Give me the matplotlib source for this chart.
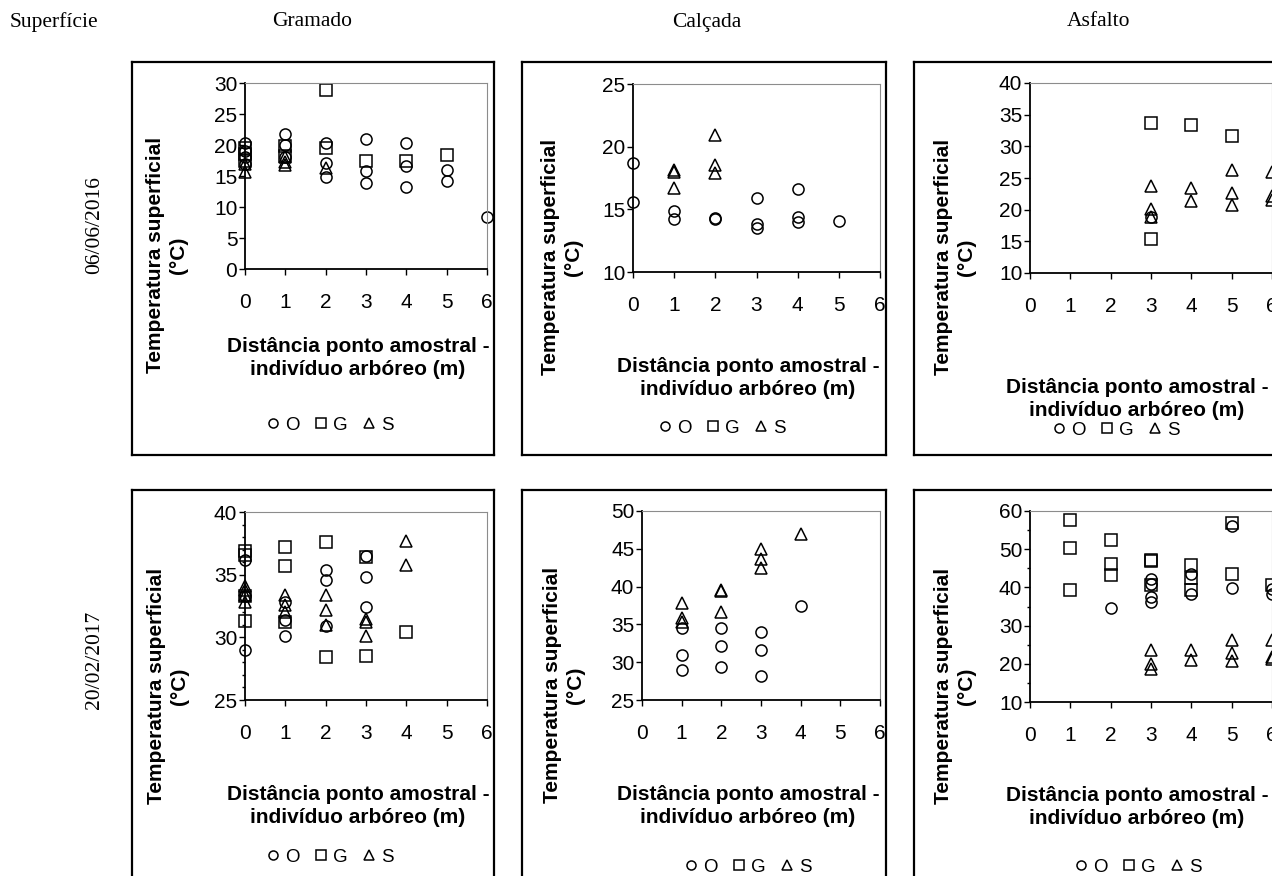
import matplotlib
matplotlib.use('Agg')
import matplotlib.pyplot as plt
from matplotlib.lines import Line2D
from matplotlib.ticker import MultipleLocator

# dados: distância (m) e temperatura superficial (°C) para O, G e S
gram16_o = ([0, 0, 0, 0, 1, 1, 1, 2, 2, 2, 3, 3, 3, 4, 4, 4, 5, 5, 6],
            [20.3, 19.0, 18.0, 17.0, 21.7, 20.0, 18.0, 20.3, 17.1, 14.8, 21.0, 15.8, 13.9, 20.3, 16.6, 13.2, 15.9, 14.2, 8.4])
gram16_g = ([0, 0, 0, 1, 1, 2, 2, 3, 4, 5],
            [19.5, 18.5, 17.5, 19.9, 18.3, 28.8, 19.5, 17.5, 17.5, 18.4])
gram16_s = ([0, 0, 1, 1, 1, 2],
            [17.0, 15.7, 18.0, 17.3, 16.8, 16.3])

calc16_o = ([0, 0, 1, 1, 2, 2, 3, 3, 3, 4, 4, 4, 5],
            [18.7, 15.6, 14.9, 14.2, 14.3, 14.2, 15.9, 13.8, 13.5, 16.6, 14.4, 14.0, 14.1])
calc16_g = ([], [])
calc16_s = ([1, 1, 1, 2, 2, 2],
            [18.1, 18.0, 16.7, 20.9, 18.5, 17.9])

asf16_o = ([3], [18.8])
asf16_g = ([3, 3, 4, 5], [33.7, 15.4, 33.4, 31.6])
asf16_s = ([3, 3, 3, 4, 4, 5, 5, 5, 6, 6, 6],
           [23.8, 20.1, 18.9, 23.4, 21.3, 26.3, 22.7, 20.8, 25.9, 22.2, 21.5])

gram17_o = ([0, 0, 0, 1, 1, 1, 2, 2, 2, 3, 3, 3],
            [36.2, 33.3, 29.0, 32.8, 31.4, 30.1, 35.4, 34.6, 30.9, 36.5, 34.8, 32.4])
gram17_g = ([0, 0, 0, 0, 1, 1, 1, 2, 2, 3, 3, 4],
            [36.9, 36.6, 33.3, 31.3, 37.2, 35.7, 31.2, 37.6, 28.4, 36.4, 28.5, 30.4])
gram17_s = ([0, 0, 0, 0, 1, 1, 1, 2, 2, 2, 3, 3, 3, 4, 4],
            [34.1, 33.8, 33.4, 32.8, 33.4, 32.6, 32.0, 33.4, 32.2, 31.0, 31.5, 31.2, 30.1, 37.7, 35.8])

calc17_o = ([1, 1, 1, 2, 2, 2, 3, 3, 3, 4],
            [34.5, 30.9, 29.0, 34.5, 32.2, 29.3, 34.0, 31.6, 28.2, 37.5])
calc17_g = ([], [])
calc17_s = ([1, 1, 1, 2, 2, 2, 3, 3, 3, 4],
            [37.8, 35.9, 35.3, 39.6, 39.4, 36.6, 45.0, 43.7, 42.4, 46.9])

asf17_o = ([2, 3, 3, 3, 3, 4, 4, 5, 5, 6, 6],
           [34.6, 42.3, 41.0, 37.5, 36.2, 43.6, 38.4, 56.2, 39.9, 39.5, 38.4])
asf17_g = ([1, 1, 1, 2, 2, 2, 3, 3, 3, 4, 4, 4, 5, 5, 6],
           [57.7, 50.4, 39.2, 52.5, 46.2, 43.2, 47.3, 47.0, 40.5, 45.8, 42.5, 39.2, 56.9, 43.6, 40.7])
asf17_s = ([3, 3, 3, 4, 4, 5, 5, 5, 6, 6, 6],
           [23.7, 20.0, 18.7, 23.7, 20.9, 26.1, 22.9, 20.7, 26.1, 21.8, 21.3])

superficies = ['Gramado', 'Calçada', 'Asfalto']
datas = ['06/06/2016', '20/02/2017']
series_nomes = ['O', 'G', 'S']
y_limites = [(0, 30, 5, None), (10, 25, 5, None), (10, 40, 5, None),
             (25, 40, 5, 1), (25, 50, 5, None), (10, 60, 10, 5)]
dados = [(gram16_o, gram16_g, gram16_s), (calc16_o, calc16_g, calc16_s), (asf16_o, asf16_g, asf16_s),
         (gram17_o, gram17_g, gram17_s), (calc17_o, calc17_g, calc17_s), (asf17_o, asf17_g, asf17_s)]

W, H = 1272, 876
fig = plt.figure(figsize=(W / 100, H / 100), dpi=100)
sans = 'Liberation Sans'
serif = 'Liberation Serif'


def rect(l, t, r, b):
    return [l / W, 1 - b / H, (r - l) / W, (b - t) / H]


def fx(x):
    return x / W


def fy(y):
    return 1 - y / H


# posições em pixels: moldura, área do gráfico, rótulo y, rótulo x, legenda
molduras = [(132, 62, 494, 455), (522, 62, 886, 455), (914, 62, 1290, 455),
            (132, 490, 494, 890), (522, 490, 886, 890), (914, 490, 1290, 890)]
areas = [(245, 83, 487, 269), (633, 84, 880, 272), (1030, 83, 1272, 273),
         (245, 512, 487, 700), (642, 511, 880, 700), (1030, 511, 1272, 702)]
rot_y = [(167, 255), (562, 257), (955, 257), (168, 686), (564, 685), (955, 686)]
rot_x = [(358, 358), (748, 378), (1137, 399), (358, 806), (748, 806), (1137, 807)]
leg = [(330, 425), (722, 428), (1116, 430), (330, 857), (748, 867), (1138, 867)]

marcadores = ['o', 's', '^']

for i in range(6):
    # moldura externa
    fr = fig.add_axes(rect(*molduras[i]))
    fr.set_xticks([])
    fr.set_yticks([])
    for s in fr.spines.values():
        s.set_linewidth(1.6)
        s.set_color('black')

    ax = fig.add_axes(rect(*areas[i]))
    ax.set_facecolor('none')
    for k, (xs, ys) in enumerate(dados[i]):
        ax.plot(xs, ys, linestyle='none', marker=marcadores[k], markersize=8,
                markerfacecolor='none', markeredgecolor='black', markeredgewidth=1.1,
                clip_on=False)
    ymin, ymax, passo, menor = y_limites[i]
    ax.set_xlim(0, 6)
    ax.set_ylim(ymin, ymax)
    ax.xaxis.set_major_locator(MultipleLocator(1))
    ax.yaxis.set_major_locator(MultipleLocator(passo))
    if menor:
        ax.yaxis.set_minor_locator(MultipleLocator(menor))
        ax.tick_params(axis='y', which='minor', length=2.5, width=1.0, direction='out')
    ax.tick_params(axis='y', which='major', length=4, width=1.0, pad=1.5, labelsize=15)
    ax.tick_params(axis='x', which='major', length=4, width=1.0, pad=13, labelsize=15)
    for lb in ax.get_xticklabels() + ax.get_yticklabels():
        lb.set_fontfamily(sans)
    ax.spines['left'].set_linewidth(1.3)
    ax.spines['bottom'].set_linewidth(1.3)
    ax.spines['top'].set_color('#8c8c8c')
    ax.spines['right'].set_color('#8c8c8c')

    # rótulos dos eixos
    fr.text(fx(rot_y[i][0]), fy(rot_y[i][1]), 'Temperatura superficial\n(°C)',
            transform=fig.transFigure, rotation=90, ha='center', va='center',
            multialignment='center', fontsize=15, fontweight='bold', family=sans,
            linespacing=1.3)
    fr.text(fx(rot_x[i][0]), fy(rot_x[i][1]), 'Distância ponto amostral -\nindivíduo arbóreo (m)',
            transform=fig.transFigure, ha='center', va='center', multialignment='center',
            fontsize=15, fontweight='bold', family=sans, linespacing=1.3, clip_on=True)

    handles = [Line2D([], [], linestyle='none', marker=m, markersize=6.5,
                      markerfacecolor='none', markeredgecolor='black', markeredgewidth=1.1)
               for m in marcadores]
    fr.legend(handles, series_nomes, loc='center', bbox_to_anchor=(fx(leg[i][0]), fy(leg[i][1])),
              bbox_transform=fig.transFigure, ncol=3, frameon=False, handlelength=0.7,
              handletextpad=0.3, columnspacing=0.8, borderpad=0, borderaxespad=0,
              prop={'family': sans, 'size': 13.5})

# cabeçalhos
fig.text(fx(10), fy(22), 'Superfície', family=serif, fontsize=15.5, ha='left', va='center')
for nome, xc in zip(superficies, [312, 707, 1099]):
    fig.text(fx(xc), fy(22), nome, family=serif, fontsize=15.5, ha='center', va='center')
for data, yc in zip(datas, [225, 660]):
    fig.text(fx(95), fy(yc), data, family=serif, fontsize=15.5, rotation=90, ha='center', va='center')

fig.savefig('out.png', dpi=100)
